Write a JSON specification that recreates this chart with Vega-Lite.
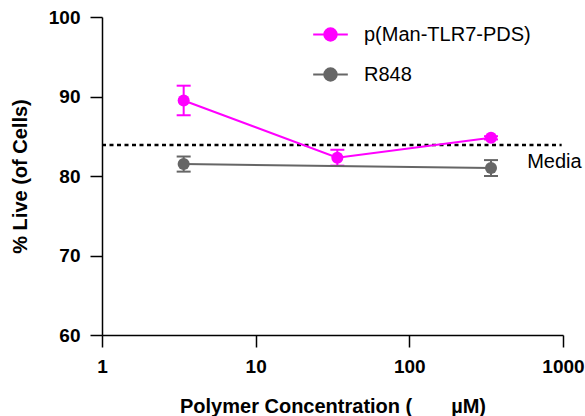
{
  "$schema": "https://vega.github.io/schema/vega-lite/v6.json",
  "autosize": "none",
  "padding": {"left": 102, "top": 17, "right": 22, "bottom": 81},
  "width": 461,
  "height": 318,
  "background": "white",
  "config": {
    "view": {"stroke": null},
    "font": "Liberation Sans",
    "axis": {
      "grid": false,
      "domainColor": "black",
      "domainWidth": 1.5,
      "tickColor": "black",
      "tickWidth": 1.5,
      "tickSize": 12,
      "labelFont": "Liberation Sans",
      "labelFontWeight": "bold",
      "labelFontSize": 19,
      "labelColor": "black",
      "titleFont": "Liberation Sans",
      "titleFontWeight": "bold",
      "titleFontSize": 20,
      "titleColor": "black"
    }
  },
  "datasets": {
    "viability": [
      {"series": "R848", "conc": 3.4, "live": 81.5, "sd": 0.95},
      {"series": "R848", "conc": 340, "live": 81.0, "sd": 1.0},
      {"series": "p(Man-TLR7-PDS)", "conc": 3.4, "live": 89.5, "sd": 1.86},
      {"series": "p(Man-TLR7-PDS)", "conc": 34, "live": 82.3, "sd": 1.0},
      {"series": "p(Man-TLR7-PDS)", "conc": 340, "live": 84.8, "sd": 0.2}
    ],
    "media": [
      {"label": "Media", "level": 83.9, "from": 1, "to": 980}
    ]
  },
  "layer": [
    {
      "data": {"name": "media"},
      "mark": {"type": "rule", "color": "black", "strokeWidth": 2.5, "strokeDash": [4, 3.5]},
      "encoding": {
        "x": {"field": "from", "type": "quantitative", "scale": {"type": "log", "domain": [1, 1000], "nice": false}},
        "x2": {"field": "to"},
        "y": {"field": "level", "type": "quantitative", "scale": {"domain": [60, 100], "nice": false}, "title": "% Live (of Cells)"}
      }
    },
    {
      "data": {"name": "media"},
      "mark": {"type": "text", "align": "right", "baseline": "middle", "dx": 20, "dy": 17, "fontSize": 20, "font": "Liberation Sans", "color": "black"},
      "encoding": {
        "x": {"field": "to", "type": "quantitative"},
        "y": {"field": "level", "type": "quantitative", "title": "% Live (of Cells)"},
        "text": {"field": "label"}
      }
    },
    {
      "data": {"name": "viability"},
      "mark": {
        "type": "errorbar",
        "ticks": {"size": 14, "thickness": 2, "opacity": 1},
        "rule": {"strokeWidth": 2, "opacity": 1}
      },
      "encoding": {
        "x": {"field": "conc", "type": "quantitative"},
        "y": {"field": "live", "type": "quantitative", "title": "% Live (of Cells)"},
        "yError": {"field": "sd"},
        "color": {"field": "series", "type": "nominal"}
      }
    },
    {
      "data": {"name": "viability"},
      "mark": {"type": "line", "strokeWidth": 2, "point": {"filled": true, "size": 145, "opacity": 1}},
      "encoding": {
        "x": {
          "field": "conc",
          "type": "quantitative",
          "scale": {"type": "log", "domain": [1, 1000], "nice": false},
          "axis": {
            "values": [1, 10, 100, 1000],
            "format": "d",
            "labelPadding": 10,
            "labelFlush": false,
            "title": "Polymer Concentration (\u00a0\u00a0\u00a0\u00a0\u00a0\u00a0\u00a0µM)",
            "titlePadding": 20
          }
        },
        "y": {
          "field": "live",
          "type": "quantitative",
          "scale": {"domain": [60, 100], "nice": false},
          "axis": {
            "values": [60, 70, 80, 90, 100],
            "labelPadding": 10,
            "title": "% Live (of Cells)",
            "titlePadding": 18
          }
        },
        "color": {
          "field": "series",
          "type": "nominal",
          "scale": {"domain": ["p(Man-TLR7-PDS)", "R848"], "range": ["#FF00FF", "#666666"]},
          "legend": {
            "title": null,
            "orient": "none",
            "legendX": 210,
            "legendY": -1,
            "padding": 0,
            "symbolType": "M-1,0H1M0.36,0A0.36,0.36,0,1,1,-0.36,0A0.36,0.36,0,1,1,0.36,0Z",
            "symbolSize": 1200,
            "symbolStrokeWidth": 2,
            "labelFont": "Liberation Sans",
            "labelFontSize": 20,
            "labelColor": "black",
            "labelOffset": 15,
            "labelLimit": 400,
            "rowPadding": 11,
            "encode": {
              "symbols": {
                "update": {
                  "fill": {"scale": "color", "field": "value"},
                  "stroke": {"scale": "color", "field": "value"},
                  "opacity": {"value": 1}
                }
              }
            }
          }
        }
      }
    }
  ]
}
